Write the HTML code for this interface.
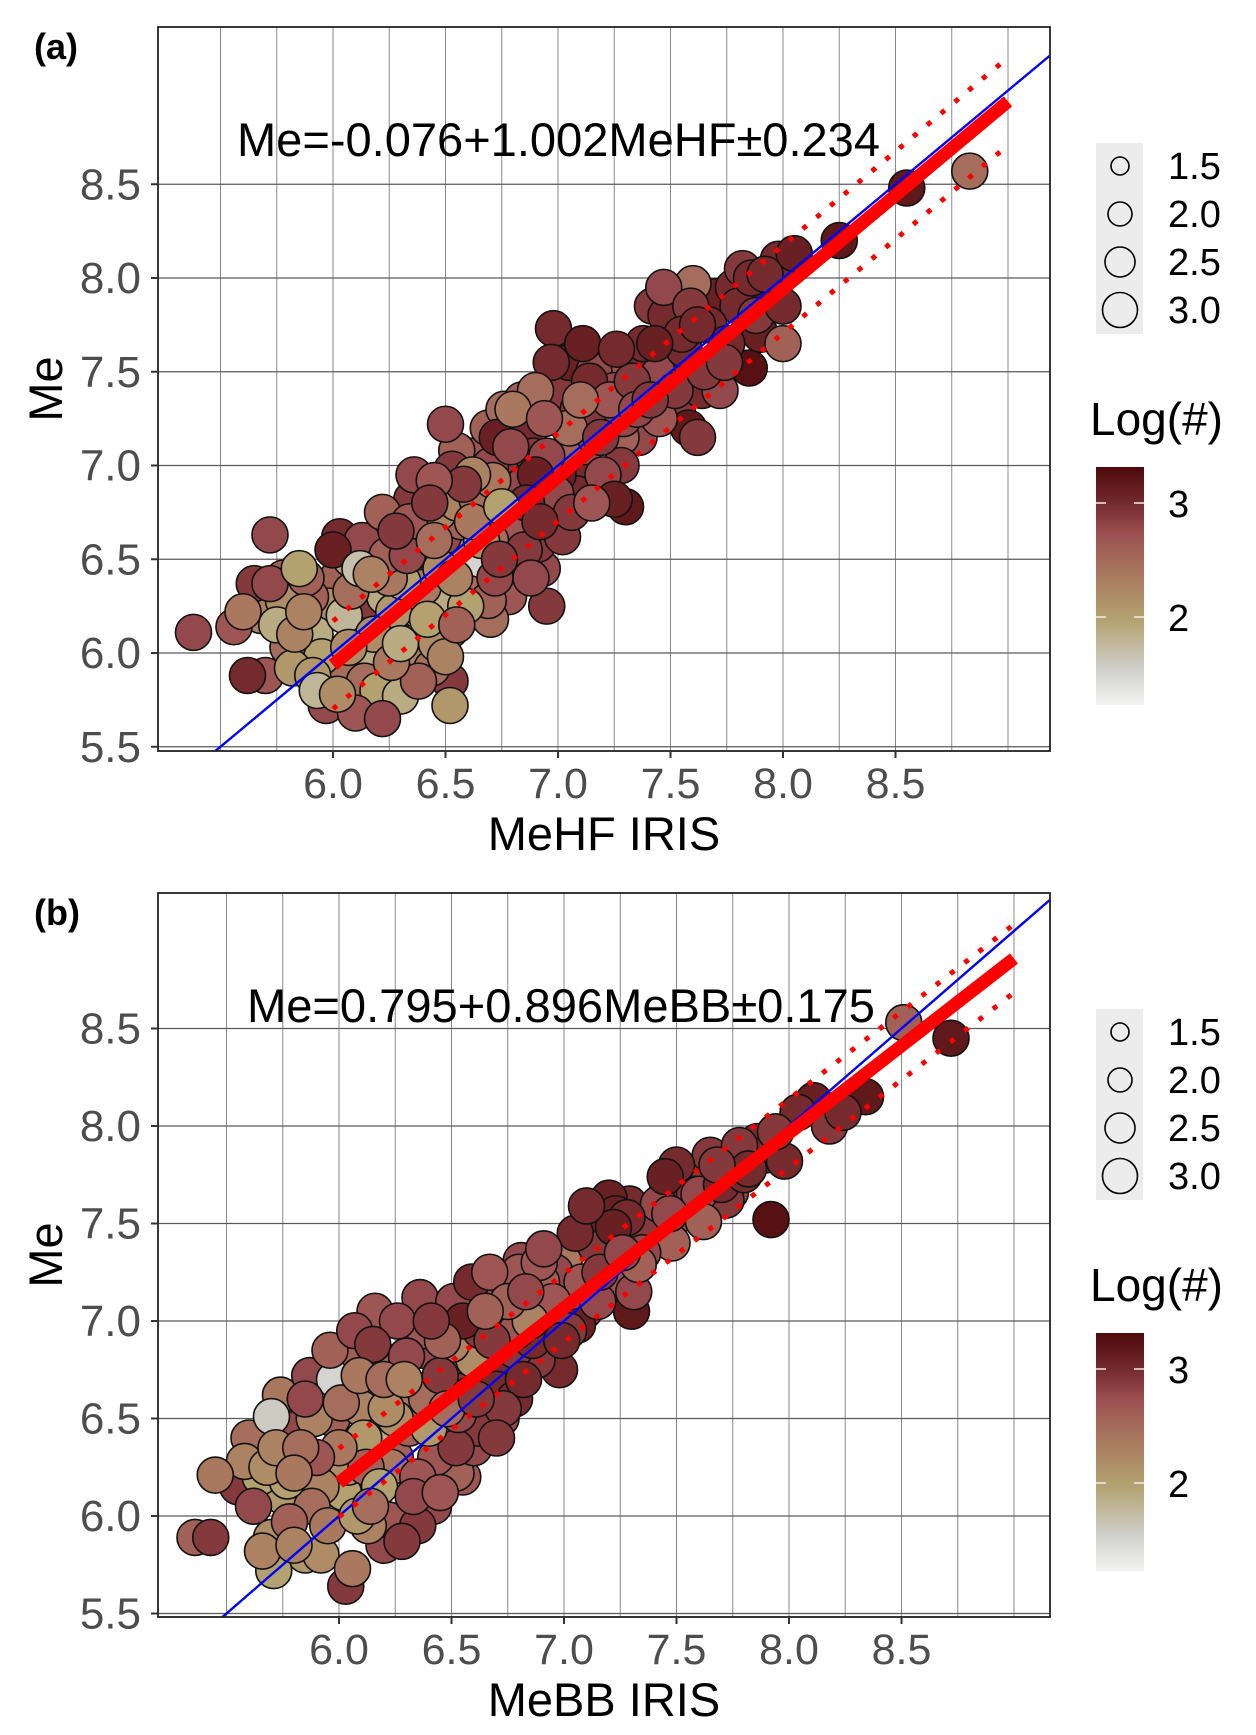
<!DOCTYPE html>
<html><head><meta charset="utf-8"><style>
html,body{margin:0;padding:0;background:#fff;}
svg{display:block;font-family:"Liberation Sans",sans-serif;}
</style></head><body>
<svg id="fig" width="1256" height="1735" viewBox="0 0 1256 1735" xmlns="http://www.w3.org/2000/svg">
<defs>
<linearGradient id="cbar" x1="0" y1="1" x2="0" y2="0">
<stop offset="0" stop-color="#f2f2f2"/>
<stop offset="0.15" stop-color="#cfcfcb"/>
<stop offset="0.36" stop-color="#b3a26f"/>
<stop offset="0.55" stop-color="#a9785e"/>
<stop offset="0.72" stop-color="#9b5052"/>
<stop offset="0.87" stop-color="#6d2426"/>
<stop offset="1" stop-color="#4f0a0c"/>
</linearGradient>
</defs>
</svg>
<script>
// ---------- Panel (a) data ----------
const aX = [5.38,5.56,5.62,5.70,5.72,5.60,5.65,5.72,5.68,5.78,5.75,5.80,5.82,5.87,5.90,5.85,5.92,5.95,5.93,5.97,6.00,6.02,6.05,6.07,6.05,6.10,6.12,6.15,6.18,6.16,6.20,6.22,6.20,6.25,6.28,6.27,6.30,6.32,6.30,6.33,6.35,6.36,6.38,6.40,6.42,6.40,6.38,6.45,6.47,6.48,6.50,6.52,6.50,6.52,6.52,6.50,6.55,6.58,6.58,6.60,6.62,6.63,6.65,6.68,6.70,6.72,6.70,6.73,6.75,6.78,6.80,6.82,6.85,6.85,6.88,6.90,6.92,6.93,6.95,6.98,7.00,7.02,7.05,7.05,7.08,7.08,7.10,7.12,7.14,7.15,7.18,7.20,7.22,7.25,7.25,7.28,7.28,7.30,7.32,7.35,7.40,7.42,7.43,7.45,7.47,7.50,7.52,7.55,7.58,7.60,7.62,7.62,7.65,7.70,7.72,7.75,7.78,7.82,7.85,7.88,7.92,7.95,7.98,8.00,8.00,8.05,8.25,8.55,8.83,6.08,6.22,6.45,6.55,6.62,6.68,6.70,6.88,6.95];
const aY = [6.11,6.14,5.88,5.88,6.63,6.22,6.37,6.37,6.20,6.28,6.15,6.03,5.92,6.22,6.30,6.45,6.10,5.98,5.80,5.72,6.55,6.40,6.20,6.03,5.88,5.68,6.45,6.28,6.10,5.96,5.80,5.65,6.58,6.40,6.65,6.22,6.05,5.90,5.77,6.52,6.82,6.95,6.68,6.35,6.18,6.00,5.85,6.60,6.75,6.45,6.30,6.12,5.98,5.85,5.72,7.22,7.08,6.90,6.55,6.38,6.70,6.22,6.50,6.85,6.60,6.40,7.00,7.15,6.78,6.30,7.30,7.05,6.90,6.55,7.20,7.40,6.70,6.45,7.05,7.73,6.95,6.62,7.55,7.20,7.60,6.85,7.35,7.10,7.45,6.80,7.25,6.95,7.55,7.40,6.82,7.15,7.00,6.78,7.60,7.30,7.45,7.85,7.65,7.25,7.95,7.55,7.40,7.70,7.20,7.97,7.75,7.15,7.50,7.90,7.40,7.65,7.95,8.05,7.52,7.80,8.02,7.90,8.10,7.85,7.65,8.13,8.20,8.48,8.57,6.50,6.75,6.92,6.80,6.95,6.32,6.18,6.40,6.25];
const aC = [2.8,2.7,3.0,2.7,2.8,2.4,2.9,2.8,2.3,2.2,1.9,2.5,2.1,2.3,2.6,2.0,1.9,2.0,1.8,2.8,3.1,2.6,1.8,2.2,2.5,2.7,1.7,2.9,2.2,1.9,2.0,2.8,2.7,2.4,2.9,2.1,1.9,2.1,1.9,2.8,2.9,2.8,2.6,2.4,2.0,2.3,2.6,2.5,2.3,2.2,1.9,2.6,2.3,2.9,2.1,2.8,2.6,2.9,2.2,2.5,2.4,2.8,1.5,2.7,2.5,2.8,2.8,3.1,2.0,2.7,2.4,2.9,2.8,2.9,3.0,2.5,3.0,2.8,2.8,3.0,3.1,2.9,3.1,2.5,3.1,3.0,2.5,2.8,3.0,2.7,2.9,2.8,2.7,2.8,3.1,2.6,2.9,3.2,3.0,2.8,2.8,2.9,3.1,2.7,2.8,3.0,2.9,3.0,3.2,2.5,3.0,2.9,2.9,3.1,2.8,3.0,3.0,2.9,3.3,2.9,3.0,3.1,3.0,3.0,2.6,3.1,3.2,3.2,2.5,2.0,2.6,2.7,2.3,2.3,1.8,2.5,2.8,2.9];
const aX2 = [5.88,5.98,6.03,6.08,6.12,6.13,6.17,6.23,6.24,6.28,6.31,6.34,6.37,6.39,6.43,6.44,6.46,6.49,6.53,6.54,6.57,6.59,6.61,6.64,6.66,6.69,6.71,6.74,6.76,6.79,6.81,6.84,6.86,6.89,6.91,6.94,6.97,6.99,7.01,7.03,7.06,7.09,7.11,7.13,7.16,7.19,7.21,7.23,7.26,7.29,7.33,7.36,7.38,7.41,7.44,7.48,7.53,7.56,7.59,7.64,7.67,7.74,7.80,7.86,7.90,8.02,5.83,5.78,5.91,6.02,6.14,6.26,6.35,6.44,6.55,6.62,6.69,6.77,6.83,6.90];
const aY2 = [6.40,6.25,6.62,6.33,6.15,6.60,6.42,6.30,6.52,6.08,6.38,6.70,6.25,6.55,6.80,6.44,6.05,6.62,6.98,6.40,6.70,6.25,7.05,6.82,6.60,7.20,6.92,6.50,7.30,7.10,6.65,7.35,6.80,7.05,6.58,7.25,7.55,6.85,7.40,7.05,6.75,7.30,7.65,6.95,7.50,7.15,6.88,7.35,7.62,7.25,7.45,7.15,7.65,7.35,7.50,7.80,7.30,7.62,7.85,7.40,7.75,7.55,7.85,8.00,7.70,8.05,6.10,6.40,5.88,5.78,5.85,5.95,6.05,5.92,6.15,6.35,6.28,6.45,6.52,6.95];
const aC2 = [2.6,2.2,3.0,2.5,2.0,2.8,2.3,1.9,2.6,2.2,2.0,2.7,2.1,2.4,2.9,1.9,2.2,2.8,2.9,2.3,2.6,2.0,2.7,2.5,2.2,2.6,2.4,2.9,2.5,2.8,2.7,2.6,3.0,2.9,2.9,2.7,3.0,2.8,2.9,2.6,2.9,2.9,3.1,3.0,2.8,2.9,3.1,2.7,3.0,2.8,2.9,2.8,3.0,2.9,2.8,3.0,2.9,3.0,2.9,3.0,3.0,2.9,3.0,3.0,3.1,3.0,2.3,2.6,2.1,2.2,2.5,2.4,1.8,2.5,2.6,2.3,2.6,2.8,2.8,3.1];
const aFit = [-0.076, 1.002, 0.234];
// ---------- Panel (b) data ----------
const bX = [5.36,5.43,5.45,5.55,5.58,5.62,5.65,5.70,5.70,5.71,5.72,5.75,5.78,5.80,5.82,5.85,5.85,5.88,5.90,5.92,5.95,5.97,5.98,6.00,6.02,6.03,6.06,6.05,6.08,6.10,6.12,6.15,6.15,6.18,6.20,6.22,6.25,6.25,6.28,6.30,6.32,6.35,6.36,6.38,6.40,6.42,6.45,6.48,6.50,6.52,6.55,6.55,6.58,6.60,6.62,6.65,6.66,6.68,6.70,6.72,6.75,6.78,6.80,6.81,6.82,6.85,6.88,6.90,6.91,6.92,6.95,6.98,7.00,7.02,7.06,7.08,7.10,7.12,7.15,7.18,7.20,7.22,7.25,7.28,7.30,7.31,7.33,7.38,7.42,7.45,7.48,7.50,7.52,7.58,7.62,7.65,7.70,7.74,7.78,7.82,7.89,7.92,7.94,7.98,8.04,8.11,8.18,8.24,8.34,8.51,8.72];
const bY = [5.89,5.89,6.21,6.15,6.28,6.05,6.20,6.51,5.89,5.72,6.35,6.10,5.97,6.22,6.45,6.60,5.80,6.05,6.30,6.15,5.95,6.50,6.70,6.35,6.12,5.64,5.73,6.80,6.00,6.55,6.25,6.88,6.40,6.15,6.70,5.98,6.50,6.30,5.87,6.82,6.62,6.20,7.12,6.95,6.45,6.05,6.72,6.55,6.88,6.35,6.20,7.00,6.62,6.80,6.45,7.05,7.15,6.90,6.65,6.50,7.10,6.85,7.25,7.31,6.70,7.00,6.80,7.20,7.37,6.95,7.10,6.75,7.30,6.95,6.98,7.20,7.59,7.40,7.10,7.30,7.63,7.48,7.20,7.53,7.05,7.15,7.29,7.45,7.60,7.74,7.40,7.80,7.55,7.65,7.51,7.85,7.70,7.66,7.90,7.78,7.85,7.52,7.97,7.82,8.07,8.13,8.00,8.07,8.15,8.53,8.45];
const bC = [2.6,2.9,2.4,2.9,2.3,2.8,2.0,1.6,2.2,2.0,2.3,2.1,2.6,2.4,2.8,2.8,2.1,2.5,2.7,2.3,2.4,2.6,1.5,2.4,2.0,2.9,2.4,2.6,2.1,2.3,2.6,2.9,1.9,2.0,2.5,2.7,2.2,2.6,2.9,2.8,2.4,2.7,2.8,2.7,2.1,2.8,2.9,2.5,2.3,2.9,2.7,3.1,2.8,2.2,2.9,2.6,2.8,2.9,3.0,2.8,2.6,2.9,2.7,2.8,3.0,2.3,2.9,2.6,2.8,2.8,2.7,3.0,2.4,2.9,3.1,2.7,3.0,2.9,2.8,3.0,3.1,3.1,2.7,3.0,3.2,2.8,2.6,2.9,2.8,3.1,2.6,3.0,2.8,2.9,2.6,2.9,3.0,2.8,2.9,3.0,3.0,3.3,2.9,3.0,3.0,3.1,2.9,3.0,3.2,2.6,3.2];
const bX2 = [5.60,5.68,5.74,5.77,5.83,5.87,5.89,5.93,5.96,6.01,6.04,6.07,6.09,6.11,6.14,6.16,6.19,6.21,6.23,6.26,6.29,6.31,6.33,6.37,6.39,6.41,6.43,6.46,6.49,6.51,6.53,6.56,6.59,6.61,6.63,6.67,6.69,6.71,6.73,6.76,6.79,6.83,6.86,6.89,6.93,6.96,6.99,7.03,7.05,7.09,7.13,7.16,7.19,7.23,7.26,7.29,7.35,7.40,7.44,7.47,7.55,7.60,7.68,7.72,7.80,7.86,5.66,5.80,5.92,6.13,6.20,6.35,6.45,6.52,6.60,6.70,6.78];
const bY2 = [6.40,6.25,6.62,6.18,6.35,6.72,6.50,6.20,6.85,6.58,6.25,6.95,6.72,6.40,6.05,7.05,6.80,6.55,6.25,7.00,6.70,6.45,6.10,6.85,6.60,7.00,6.30,6.90,6.70,7.10,6.52,6.82,7.20,6.60,6.95,7.25,6.75,7.05,6.55,7.20,6.95,7.15,6.90,7.30,7.05,7.25,6.90,7.15,7.45,7.05,7.55,7.25,7.45,7.55,7.35,7.60,7.35,7.50,7.62,7.55,7.75,7.65,7.80,7.62,7.75,7.92,5.82,5.85,5.80,5.95,5.85,5.95,6.12,6.22,6.35,6.40,6.60];
const bC2 = [2.5,2.2,2.4,2.0,2.5,2.8,2.3,2.1,2.6,2.5,2.2,2.8,2.4,2.1,2.5,2.7,2.6,2.2,2.4,2.8,2.3,2.6,2.8,2.8,2.5,2.9,2.7,2.6,2.9,2.8,2.8,2.4,3.0,2.9,2.9,2.7,3.0,2.8,2.9,2.9,2.7,2.8,3.0,2.7,2.9,2.8,3.0,2.8,3.0,2.9,3.1,2.9,3.0,3.1,2.8,3.0,2.8,2.9,3.0,2.8,2.9,2.8,2.9,2.9,3.0,3.0,2.3,2.3,2.2,2.3,2.8,2.9,2.7,2.6,2.8,2.9,3.0];
const bFit = [0.795, 0.896, 0.175];
// ---------- shared ----------
const xTicks = [6.0,6.5,7.0,7.5,8.0,8.5];
const yTicks = [5.5,6.0,6.5,7.0,7.5,8.0,8.5];
const sizeLegend = ["1.5","2.0","2.5","3.0"];
const colorTicks = [3,2];

const NS = "http://www.w3.org/2000/svg";
const svg = document.getElementById('fig');
function mk(tag, attrs, parent){ const e=document.createElementNS(NS,tag); for(const k in attrs) e.setAttribute(k,attrs[k]); (parent||svg).appendChild(e); return e; }

const stops=[[1.2,[242,242,242]],[1.55,[207,207,203]],[2.0,[179,162,111]],[2.4,[169,120,94]],[2.75,[155,80,82]],[3.05,[109,36,38]],[3.4,[79,10,12]]];
function colorOf(c){
  if(c<=stops[0][0]) return 'rgb('+stops[0][1]+')';
  for(let i=1;i<stops.length;i++){ if(c<=stops[i][0]){ const t=(c-stops[i-1][0])/(stops[i][0]-stops[i-1][0]); const a=stops[i-1][1],b=stops[i][1]; return 'rgb('+a.map((v,j)=>Math.round(v+(b[j]-v)*t)).join(',')+')'; } }
  return 'rgb('+stops[stops.length-1][1]+')';
}

function panel(p){
  const L=158,R=1050,T=p.top,B=p.top+724;
  const sx=v=>p.x6+(v-6)*225;
  const sy=v=>p.y6-(v-6)*p.ky;
  const g=mk('g',{});
  
  
  const clipId='clip'+p.name;
  const cp=mk('clipPath',{id:clipId},g); mk('rect',{x:L,y:T,width:R-L,height:B-T},cp);
  for(let v=5.5; v<=9.001; v+=0.25){ const x=sx(v); if(x>L&&x<R){ const l=mk('line',{x1:x,x2:x,y1:T,y2:B,stroke:'#8a8a8a','stroke-width':1},g);   } }
  yTicks.forEach(v=>{ const y=sy(v); const l=mk('line',{x1:L,x2:R,y1:y,y2:y,stroke:'#5a5a5a','stroke-width':1.2},g);   });
  const pg=mk('g',{'clip-path':'url(#'+clipId+')'},g);
  const xs=p.xs.concat(p.xs2), ys=p.ys.concat(p.ys2), cs=p.cs.concat(p.cs2);
  // interleave draw order so dense regions mix
  const order=xs.map((_,i)=>i).sort((i,j)=>((i*37)%97)-((j*37)%97));
  order.forEach(i=>{
    const c=mk('circle',{cx:sx(xs[i]),cy:sy(ys[i]),r:18,fill:colorOf(cs[i]),stroke:'#111','stroke-width':1.6},pg);
    
    
  });
  const bl=mk('line',{x1:sx(5.3),y1:sy(5.3),x2:sx(9.4),y2:sy(9.4),stroke:'#0000ff','stroke-width':2.4},pg);
  
  
  const [a,b,s]=p.fit; const f=v=>a+b*v;
  const fl=mk('line',{x1:sx(6),y1:sy(f(6)),x2:sx(9),y2:sy(f(9)),stroke:'#ff0000','stroke-width':13},pg);
  
  
  [s,-s].forEach(d=>{
    const dl=mk('line',{x1:sx(6),y1:sy(f(6)+d),x2:sx(9),y2:sy(f(9)+d),stroke:'#ff0000','stroke-width':5,'stroke-dasharray':'5 13'},pg);
    
    
  });
  const fr=mk('rect',{x:L,y:T,width:R-L,height:B-T,fill:'none',stroke:'#222','stroke-width':1.8},g);
   
  xTicks.forEach(v=>{ const x=sx(v); mk('line',{x1:x,x2:x,y1:B,y2:B+7,stroke:'#333','stroke-width':2},g);
    const t=mk('text',{x:x,y:B+47,'font-size':43,fill:'#4d4d4d','text-anchor':'middle'},g); t.textContent=v.toFixed(1);
      });
  yTicks.forEach(v=>{ const y=sy(v); mk('line',{x1:L-7,x2:L,y1:y,y2:y,stroke:'#333','stroke-width':2},g);
    const t=mk('text',{x:141,y:y+15,'font-size':44,fill:'#4d4d4d','text-anchor':'end'},g); t.textContent=v.toFixed(1);
      });
  const xt=mk('text',{x:604,y:B+99,'font-size':47,fill:'#000','text-anchor':'middle'},g); xt.textContent=p.xlabel;
   
  const yt=mk('text',{x:0,y:0,'font-size':47,fill:'#000','text-anchor':'middle',transform:'translate(62,'+(T+362)+') rotate(-90)'},g); yt.textContent='Me';
   
  const eq=mk('text',{x:p.eqX,y:T+129,'font-size':47,fill:'#000',textLength:p.eqW,lengthAdjust:'spacingAndGlyphs'},g); eq.textContent=p.eq;
   
  const pl=mk('text',{x:34,y:T+32,'font-size':36,'font-weight':'bold',fill:'#000'},g); pl.textContent=p.label;
   
  const o=T-27;
  const lb=mk('rect',{x:1096,y:o+143,width:47,height:191,fill:'#ececec'},g);
   
  const radii=[9,12,15,17.5];
  sizeLegend.forEach((s,i)=>{ const cy=o+166+i*48;
    const c=mk('circle',{cx:1120,cy:cy,r:radii[i],fill:'none',stroke:'#000','stroke-width':1.6},g);
     
    const t=mk('text',{x:1168,y:cy+13,'font-size':38,fill:'#000'},g); t.textContent=s;
      });
  const ct=mk('text',{x:1090,y:o+435,'font-size':46,fill:'#000'},g); ct.textContent='Log(#)';
   
  const cb=mk('rect',{x:1096,y:o+467,width:48,height:238,fill:'url(#cbar)'},g);
   
  colorTicks.forEach(v=>{ const y=o+503+(3-v)*114;
    mk('line',{x1:1096,x2:1106,y1:y,y2:y,stroke:'#eee','stroke-width':1.5},g);
    mk('line',{x1:1134,x2:1144,y1:y,y2:y,stroke:'#eee','stroke-width':1.5},g);
    const t=mk('text',{x:1168,y:y+14,'font-size':38,fill:'#000'},g); t.textContent=String(v);
      });
}

panel({name:'a',label:'(a)',top:27,x6:333,y6:653,ky:187.5,xs:aX,ys:aY,cs:aC,xs2:aX2,ys2:aY2,cs2:aC2,fit:aFit,xlabel:'MeHF IRIS',eq:'Me=-0.076+1.002MeHF±0.234',eqX:237,eqW:643});
panel({name:'b',label:'(b)',top:893,x6:339,y6:1516,ky:195,xs:bX,ys:bY,cs:bC,xs2:bX2,ys2:bY2,cs2:bC2,fit:bFit,xlabel:'MeBB IRIS',eq:'Me=0.795+0.896MeBB±0.175',eqX:247,eqW:628});
</script>
</body></html>
